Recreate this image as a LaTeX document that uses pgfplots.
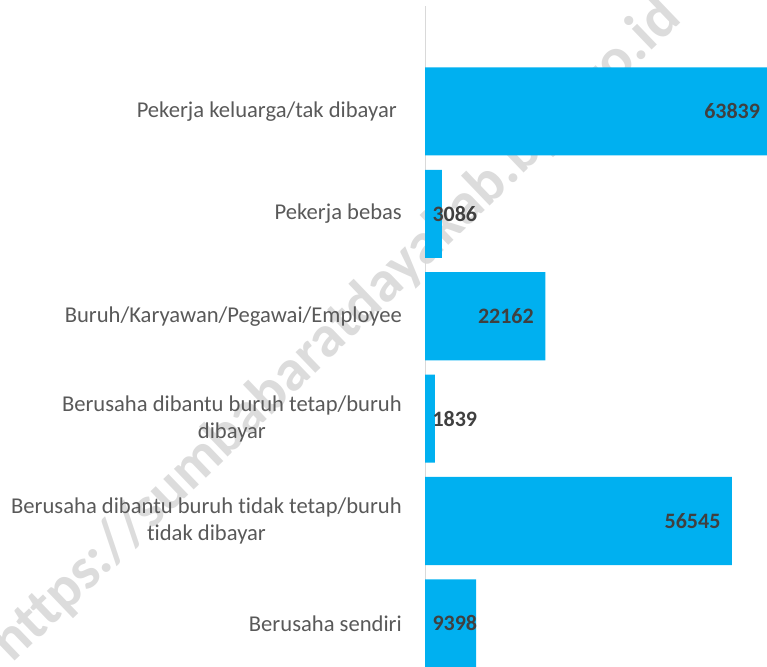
\documentclass[border=0pt]{standalone}
\usepackage{pgfplots}
\usepackage{pgfplotstable}
\pgfplotsset{compat=1.18}
\usepackage{fontspec}
\setmainfont{Carlito}[Ligatures=NoCommon]
\definecolor{barc}{HTML}{00B0F0}
\definecolor{lab}{HTML}{595959}
\definecolor{val}{HTML}{404040}
\definecolor{axc}{HTML}{D9D9D9}
\definecolor{wm}{HTML}{DCDCDC}

\pgfplotstableread{
y x
0 9398
1 56545
2 1839
3 22162
4 3086
5 63839
}\bars
\pgfplotstableread{
y x lab
1 56545 56545
3 22162 22162
5 63839 63839
}\biglabels
\pgfplotstableread{
y x lab
0 0 9398
2 0 1839
4 0 3086
}\smalllabels

\begin{document}
\begin{tikzpicture}
\begin{axis}[
  set layers, clip=false,
  scale only axis, width=342pt, height=660pt,
  xmin=0, xmax=63000, ymin=-0.416, ymax=6.03,
  axis x line=none,
  axis y line=left,
  y axis line style={draw=axc, line width=0.8pt, -},
  ytick={0,...,5},
  yticklabels={Berusaha sendiri, {Berusaha dibantu buruh tidak tetap/buruh\\tidak dibayar}, {Berusaha dibantu buruh tetap/buruh\\dibayar}, Buruh/Karyawan/Pegawai/Employee, Pekerja bebas, {Pekerja keluarga/tak dibayar\ }},
  ytick style={draw=none},
  major tick length=0pt,
  yticklabel style={align=center, font=\fontsize{22.6}{27}\selectfont, text=lab, inner sep=0pt, xshift=-23pt},
]
\begin{pgfonlayer}{axis background}
\node[rotate=43.8, text=wm, font=\fontsize{59}{59}\selectfont\bfseries] at ([xshift=-88pt,yshift=335pt]rel axis cs:0,0) {https://sumbabaratdayakab.bps.go.id};
\end{pgfonlayer}
\addplot[xbar, bar width=0.86, bar shift=0pt, fill=barc, draw=none] table[x=x, y=y] {\bars};
\addplot[draw=none, mark=none, nodes near coords, point meta=explicit symbolic,
  every node near coord/.append style={anchor=east, xshift=-8pt, font=\fontsize{22}{27}\selectfont\bfseries, text=val}]
  table[x=x, y=y, meta=lab] {\biglabels};
\addplot[draw=none, mark=none, nodes near coords, point meta=explicit symbolic,
  every node near coord/.append style={anchor=west, xshift=4pt, font=\fontsize{22}{27}\selectfont\bfseries, text=val}]
  table[x=x, y=y, meta=lab] {\smalllabels};
\coordinate (bl) at (rel axis cs:0,0);
\coordinate (tr) at (rel axis cs:1,1);
\end{axis}
\pgfresetboundingbox
\path ([xshift=-425pt]bl) rectangle ([yshift=6pt]tr);
\end{tikzpicture}
\end{document}
